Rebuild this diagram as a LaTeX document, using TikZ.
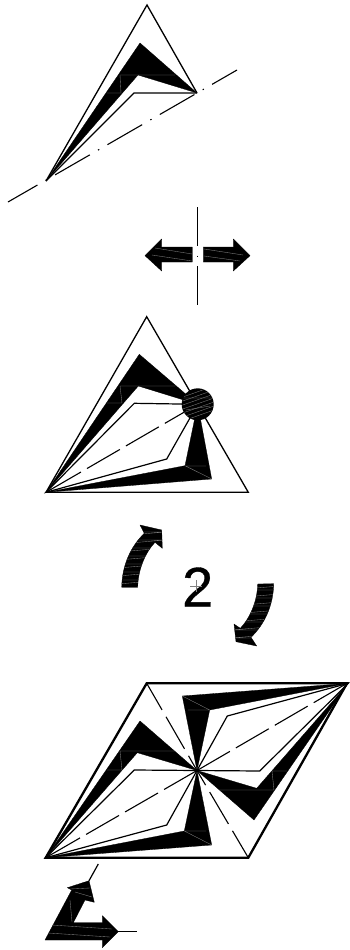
\documentclass[tikz,border=0pt]{standalone}
\usepackage{fontspec}
\setmainfont{Liberation Sans}
\usepackage{xcolor}
\usetikzlibrary{calc}

\begin{document}
\begin{tikzpicture}[
    x=1pt, y=-1pt,
    outline/.style={line width=1.3pt, line join=miter},
    heavy/.style={line width=2.3pt, line join=miter},
    blade/.style={fill=black, draw=black, line width=.3pt, line join=round},
    hatch/.style={draw=black!50, line width=.35pt},
    axisline/.style={line width=1.1pt, dash pattern=on 40pt off 9.5pt on 1.4pt off 9.5pt},
    foldline/.style={line width=1.1pt, dash pattern=on 38pt off 7pt},
    shortfold/.style={line width=1.1pt, dash pattern=on 37pt off 8pt, dash phase=20pt},
    thinline/.style={line width=1.2pt},
    sign/.style={font=\fontsize{56}{56}\selectfont\addfontfeature{FakeBold=0.6}, inner sep=0pt}
]
\useasboundingbox (0,0) rectangle (349,950);

% single fold, with its axis
\coordinate (topA) at (46,181);
\coordinate (topB) at (197,93);
\coordinate (topC) at (147,5);
\draw[outline] (topA) -- (topC) -- (topB);
\draw[blade] (topA) -- (140,43) -- (topB) -- (138,75) -- cycle;
\draw[hatch] (120,75) -- (175,75) (120,75) -- (121,93) -- (107,93);
\draw[thinline] (topA) -- (134,93) -- (topB);
\draw[axisline, dash phase=6pt] (8,202) -- (237,70);

% mirror
\coordinate (mirrorC) at (197.7,256);
\draw[axisline, dash phase=1pt] (197.7,207) -- (197.7,305);
\draw[blade] (192.3,247) -- (161.7,247) -- (161.7,239) -- (145,255.7) -- (161.7,271) -- (161.7,262) -- (192.3,262) -- cycle;
\draw[blade] (203.3,247) -- (233.3,247) -- (233.3,239) -- (250,255.7) -- (233.3,271) -- (233.3,262) -- (203.3,262) -- cycle;
\draw[hatch] (155,248) -- (192,254) (152,255) -- (192,261);
\draw[hatch] (204,249) -- (243,255) (204,256) -- (240,261);

% mirrored triangle with the gyration point
\coordinate (midA) at (46,492.3);
\coordinate (midB) at (248.3,492.3);
\coordinate (midC) at (146.7,316.7);
\coordinate (midO) at (197.7,404.3);
\draw[outline] (midA) -- (midB) -- (midC) -- cycle;
\draw[blade] (midA) -- (139.3,354.3) -- (midO) -- (138.3,386) -- cycle;
\draw[blade] (midA) -- (185,465.7) -- (midO) -- (211.7,479) -- cycle;
\draw[hatch] (120,386) -- (175,386) (120,386) -- (122,403) -- (107,403);
\draw[hatch] (185,465.7) -- (211.7,479) (185,466) -- (206,466);
\draw[thinline] (midA) -- (134.3,403.3) -- (midO) -- (166.7,459) -- cycle;
\draw[foldline] (midO) -- (midA);
\fill[black] (midO) circle (16pt);
\begin{scope}
  \clip (midO) circle (15.5pt);
  \foreach \yy in {392,396,...,416}
    \draw[hatch] (180,\yy+6) -- (214,\yy-6);
  \draw[hatch] (183,398) -- (212,398) (186,410) -- (210,406);
\end{scope}

% rotation arrows and order
\node[sign] (order) at (197.7,587) {2};
\draw[hatch] (190,586) -- (202,586) (196,580) -- (196,592);
\draw[blade, path picture={
    \foreach \yy in {584,576,568,560,552,544,536}
      \draw[hatch] (118,\yy) -- (165,\yy-4) -- (118,\yy-4);
  }] (121.7,587.3) .. controls (122,565) and (131,546) .. (144.3,533.3) -- (140,525) -- (161.7,530) -- (162.3,548.3) -- (155,542.3) .. controls (145,553) and (138,570) .. (137.7,587.3) -- cycle;
\draw[blade, path picture={
    \foreach \yy in {586,594,602,610,618,626,634}
      \draw[hatch] (280,\yy) -- (232,\yy+4) -- (280,\yy+4);
  }] (273.7,583.7) .. controls (273.4,606) and (264,625) .. (251,637.3) -- (256.7,646) -- (236,641.7) -- (234,624) -- (240.3,628.3) .. controls (250,618) and (257.4,601) .. (257.7,584) -- cycle;

% full cell from two triangles
\coordinate (cellA) at (45.7,857.7);
\coordinate (cellB) at (248.3,857.7);
\coordinate (cellC) at (347,683.3);
\coordinate (cellD) at (146.7,683.3);
\coordinate (cellO) at (197,770.5);
\foreach \turn in {0,180}{
  \begin{scope}[rotate around={\turn:(197,770.5)}]
    \coordinate (petalA) at (45.7,857.7);
    \draw[blade] (petalA) -- (140,721) -- (cellO) -- (137.3,752.7) -- cycle;
    \draw[blade] (petalA) -- (184.3,831) -- (cellO) -- (211.7,845) -- cycle;
    \draw[hatch] (120,751) -- (175,751) (120,751) -- (122,770) -- (107,770);
    \draw[hatch] (184.3,831) -- (211.7,845) (184.3,831) -- (206,831);
    \draw[thinline] (petalA) -- (134.3,770) -- (cellO) -- (166.7,825) -- cycle;
  \end{scope}
}
\draw[heavy] (cellA) -- (cellB) -- (cellC) -- (cellD) -- cycle;
\draw[foldline] (cellO) -- (cellA);
\draw[foldline] (cellO) -- (cellC);
\draw[shortfold] (cellO) -- (cellB);
\draw[shortfold] (cellO) -- (cellD);

% translation axes
\draw[thinline] (98.3,864) -- (89,880.7);
\draw[thinline] (118.3,931.7) -- (136.7,931.7);
\draw[blade] (45,940) -- (71.7,890) -- (67.3,887.7) -- (89,880.7) -- (94.3,902.3) -- (85,900) -- (73.3,922.7) -- (102.3,922.7) -- (102.3,915.7) -- (118.3,931.7) -- (102.3,947.7) -- (102.3,940) -- cycle;
\draw[hatch] (52,925) -- (112,929) (48,933) -- (110,937);
\draw[hatch] (70,889) -- (90,888) (75,892) -- (92,897);
\draw[hatch] (70,900) -- (72,922);
\end{tikzpicture}
\end{document}
